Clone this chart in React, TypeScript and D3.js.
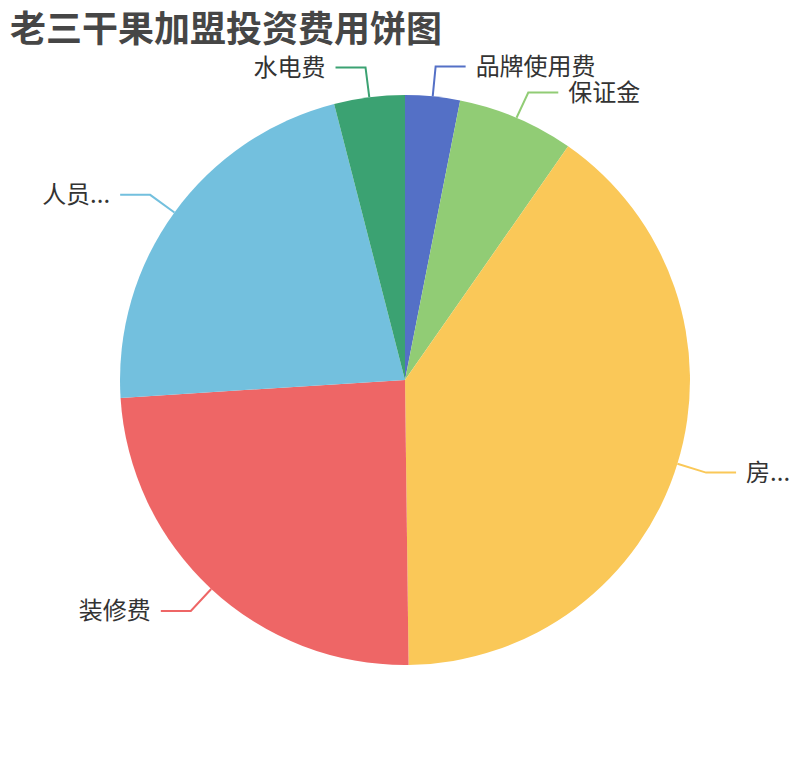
import { useMemo } from 'react';
import * as d3 from 'd3';

const WIDTH = 810;
const HEIGHT = 760;
const CENTER = { x: 405, y: 380 };
const RADIUS = 285;
const FONT = '"Noto Sans CJK SC", "Noto Sans", sans-serif';
const LABEL_SIZE = 24;
const LINE_LEN = 30;
const LINE_LEN2 = 30;
const LABEL_GAP = 10;
const EDGE_LEFT = 30;
const EDGE_RIGHT = 20;
const MIN_LABEL_SPACING = 26;

const TITLE = '老三干果加盟投资费用饼图';
const NAMES = ['品牌使用费', '保证金', '房租费', '装修费', '人员工资', '水电费'];
const VALUES = [3.1, 6.6, 40.1, 24.2, 22.0, 4.0];
const COLORS = ['#5470c6', '#91cc75', '#fac858', '#ee6666', '#73c0de', '#3ba272'];

interface Slice {
  name: string;
  value: number;
  color: string;
}

interface LabelInfo {
  color: string;
  text: string;
  side: 'left' | 'right';
  edge: [number, number];
  elbow: [number, number];
  y: number;
}

// shorten a label with "..." when it would run past the view edge
function fitLabel(text: string, avail: number): string {
  const fs = LABEL_SIZE;
  if (text.length * fs <= avail) return text;
  let k = text.length;
  while (k > 0 && k * fs + 0.8 * fs > avail) k--;
  return text.slice(0, k) + '...';
}

export default function App() {
  const slices: Slice[] = NAMES.map((name, i) => ({ name, value: VALUES[i], color: COLORS[i] }));

  const arcs = useMemo(
    () =>
      d3
        .pie<Slice>()
        .sort(null)
        .value((d) => d.value)
        .startAngle(0)
        .endAngle(2 * Math.PI)(slices),
    [],
  );

  const arcGen = d3.arc<d3.PieArcDatum<Slice>>().innerRadius(0).outerRadius(RADIUS);

  // ---- label layout (radial segment, then horizontal segment) -------------
  const labels: LabelInfo[] = arcs.map((a) => {
    const mid = (a.startAngle + a.endAngle) / 2;
    const sx = Math.sin(mid);
    const sy = -Math.cos(mid);
    const edge: [number, number] = [CENTER.x + RADIUS * sx, CENTER.y + RADIUS * sy];
    const elbow: [number, number] = [
      CENTER.x + (RADIUS + LINE_LEN) * sx,
      CENTER.y + (RADIUS + LINE_LEN) * sy,
    ];
    return {
      color: a.data.color,
      text: a.data.name,
      side: sx >= 0 ? 'right' : 'left',
      edge,
      elbow,
      y: elbow[1],
    };
  });

  // push overlapping labels down on each side
  (['left', 'right'] as const).forEach((side) => {
    const group = labels.filter((l) => l.side === side).sort((p, q) => p.y - q.y);
    for (let i = 1; i < group.length; i++) {
      if (group[i].y < group[i - 1].y + MIN_LABEL_SPACING) {
        group[i].y = group[i - 1].y + MIN_LABEL_SPACING;
      }
    }
  });

  const lineGen = d3.line<[number, number]>();

  return (
    <div style={{ position: 'absolute', left: 0, top: 0, width: WIDTH, height: HEIGHT }}>
      <svg width={WIDTH} height={HEIGHT} style={{ display: 'block' }}>
        <text
          x={10}
          y={26}
          dominantBaseline="central"
          fontFamily={FONT}
          fontSize={36}
          fontWeight="bold"
          fill="#464646"
        >
          {TITLE}
        </text>

        <g transform={`translate(${CENTER.x}, ${CENTER.y})`}>
          {arcs.map((a, i) => (
            <path key={i} d={arcGen(a) ?? ''} fill={a.data.color} />
          ))}
        </g>

        {labels.map((l, i) => {
          const dir = l.side === 'right' ? 1 : -1;
          const elbow: [number, number] = [l.elbow[0], l.y];
          const end: [number, number] = [elbow[0] + dir * LINE_LEN2, l.y];
          const tx = end[0] + dir * LABEL_GAP;
          const avail = l.side === 'right' ? WIDTH - tx - EDGE_RIGHT : tx - EDGE_LEFT;
          return (
            <g key={i}>
              <path
                d={lineGen([l.edge, elbow, end]) ?? ''}
                fill="none"
                stroke={l.color}
                strokeWidth={2}
              />
              <text
                x={tx}
                y={l.y - 2}
                textAnchor={l.side === 'right' ? 'start' : 'end'}
                dominantBaseline="central"
                fontFamily={FONT}
                fontSize={LABEL_SIZE}
                fill="#333"
              >
                {fitLabel(l.text, avail)}
              </text>
            </g>
          );
        })}
      </svg>
    </div>
  );
}
